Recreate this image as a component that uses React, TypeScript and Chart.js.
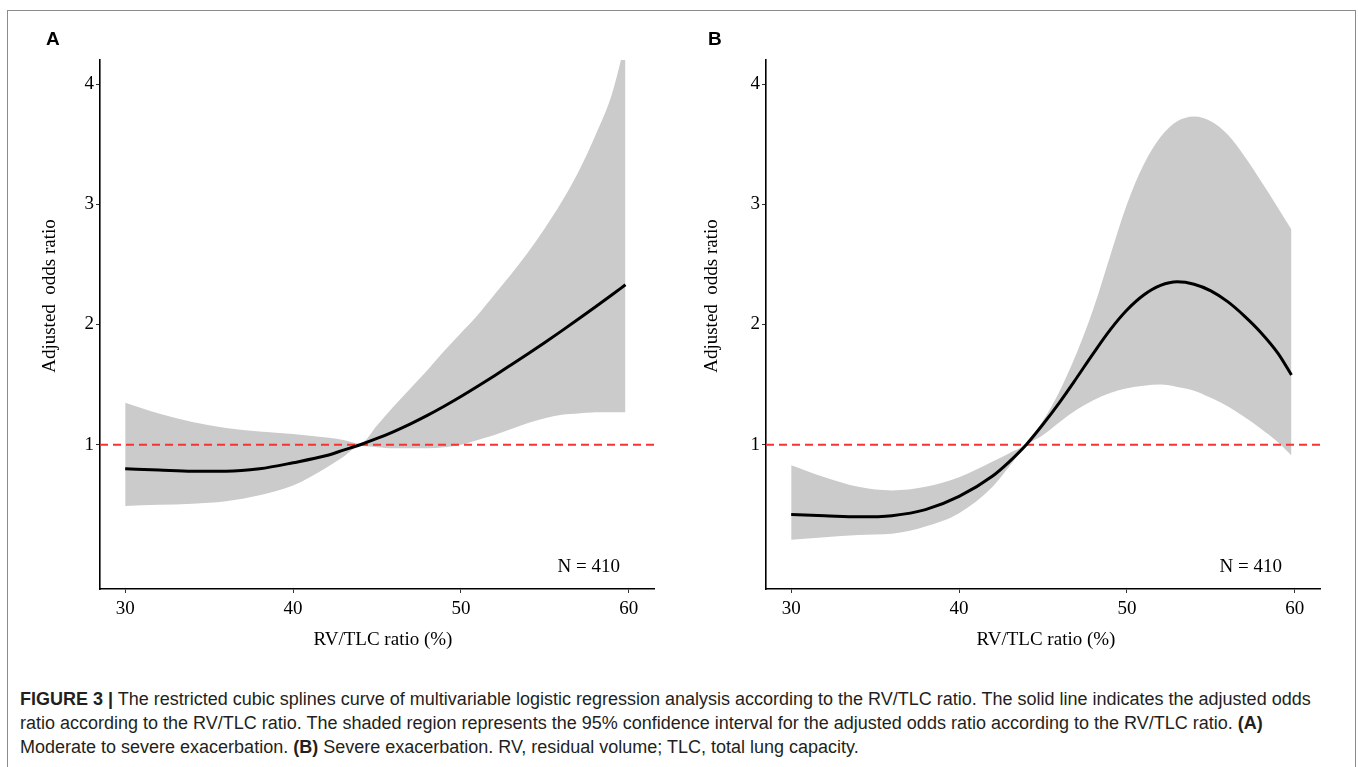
import React, { useEffect, useRef } from "react";
import { Chart, registerables } from "chart.js";

Chart.register(...registerables);

// ---------- data ----------
const xTicks = [30, 40, 50, 60];
const yTicks = [1, 2, 3, 4];
const xRange = [28.5, 61.5];
const yRange = [-0.2, 4.2];
const refValue = 1;

const ratioGrid = [30, 32, 34, 36, 38, 40, 42, 43, 44, 45, 46, 47, 48, 49, 50, 51, 52, 53, 54, 55, 56, 57, 58, 59, 59.8];

// Panel A: moderate to severe exacerbation
const fitA = [0.80, 0.79, 0.78, 0.78, 0.80, 0.85, 0.91, 0.955, 1.00, 1.052, 1.11, 1.174, 1.244, 1.32, 1.401, 1.486, 1.574, 1.665, 1.757, 1.851, 1.947, 2.045, 2.145, 2.247, 2.33];
const upperA = [1.35, 1.26, 1.19, 1.14, 1.11, 1.09, 1.06, 1.04, 1.01, 1.16, 1.32, 1.47, 1.62, 1.78, 1.93, 2.08, 2.25, 2.42, 2.60, 2.80, 3.02, 3.27, 3.57, 3.92, 4.35];
const lowerA = [0.49, 0.50, 0.51, 0.53, 0.58, 0.66, 0.81, 0.90, 0.99, 0.98, 0.97, 0.97, 0.97, 0.98, 1.00, 1.04, 1.08, 1.13, 1.18, 1.22, 1.25, 1.26, 1.27, 1.27, 1.27];

// Panel B: severe exacerbation
const fitB = [0.42, 0.41, 0.40, 0.41, 0.46, 0.57, 0.74, 0.86, 1.00, 1.17, 1.355, 1.555, 1.76, 1.955, 2.12, 2.245, 2.325, 2.355, 2.335, 2.28, 2.19, 2.07, 1.93, 1.76, 1.58];
const upperB = [0.83, 0.73, 0.65, 0.62, 0.65, 0.73, 0.86, 0.93, 1.01, 1.20, 1.45, 1.76, 2.13, 2.57, 3.00, 3.33, 3.56, 3.69, 3.73, 3.69, 3.58, 3.40, 3.19, 2.97, 2.79];
const lowerB = [0.21, 0.23, 0.25, 0.26, 0.32, 0.43, 0.65, 0.82, 0.99, 1.08, 1.19, 1.29, 1.37, 1.43, 1.47, 1.49, 1.50, 1.48, 1.45, 1.39, 1.32, 1.23, 1.13, 1.02, 0.91];

const panelLabels = ["A", "B"];
const xTitle = "RV/TLC ratio (%)";
const yTitle = "Adjusted  odds ratio";
const nLabel = "N = 410";

// ---------- styles ----------
const SERIF = '"Liberation Serif", "Times New Roman", Times, serif';
const SANS = '"Liberation Sans", Arial, Helvetica, sans-serif';

type Layout = {
  left: number;
  width: number;
  height: number;
  axisLeft: number;
  padRight: number;
  padTop: number;
  xAxisHeight: number;
  labelDx: number;
  labelY: number;
  yTitleDx: number;
  yTitleY: number;
  xTitleDx: number;
  xTitleY: number;
  nDx: number;
  nY: number;
};

const layoutA: Layout = {
  left: 0, width: 680, height: 680, axisLeft: 100, padRight: 26, padTop: 60, xAxisHeight: 91,
  labelDx: -54, labelY: 40, yTitleDx: -49.5, yTitleY: 296, xTitleDx: 6, xTitleY: 640, nDx: 34, nY: 567,
};
const layoutB: Layout = {
  left: 680, width: 678, height: 680, axisLeft: 86, padRight: 38, padTop: 60, xAxisHeight: 91,
  labelDx: -58, labelY: 40, yTitleDx: -54, yTitleY: 296, xTitleDx: 3, xTitleY: 640, nDx: 38, nY: 567,
};

const textPlugin = {
  id: "panelText",
  afterDraw(chart: any, _args: any, opts: any) {
    const { ctx, chartArea: a } = chart;
    ctx.save();
    ctx.fillStyle = "#000";
    ctx.textBaseline = "middle";
    // panel letter
    ctx.font = `bold 19px ${SANS}`;
    ctx.textAlign = "left";
    ctx.fillText(opts.label, a.left + opts.labelDx, opts.labelY);
    // y title
    ctx.font = `19px ${SERIF}`;
    ctx.save();
    ctx.translate(a.left + opts.yTitleDx, opts.yTitleY);
    ctx.rotate(-Math.PI / 2);
    ctx.textAlign = "center";
    ctx.fillText(yTitle, 0, 0);
    ctx.restore();
    // x title
    ctx.textAlign = "center";
    ctx.fillText(xTitle, (a.left + a.right) / 2 + opts.xTitleDx, opts.xTitleY);
    // N label
    ctx.textAlign = "right";
    ctx.fillText(nLabel, a.right - opts.nDx, opts.nY);
    ctx.restore();
  },
};

function toPoints(xs: number[], ys: number[]) {
  return xs.map((x, i) => ({ x, y: ys[i] }));
}

function Panel({ label, fit, upper, lower, lay }: { label: string; fit: number[]; upper: number[]; lower: number[]; lay: Layout }) {
  const ref = useRef<HTMLCanvasElement | null>(null);
  useEffect(() => {
    if (!ref.current) return;
    const axisFont = { family: SERIF, size: 19 };
    const chart = new Chart(ref.current, {
      type: "line",
      data: {
        datasets: [
          {
            data: toPoints(ratioGrid, upper),
            borderWidth: 0,
            borderColor: "rgba(0,0,0,0)",
            backgroundColor: "#cbcbcb",
            pointRadius: 0,
            fill: "+1",
            cubicInterpolationMode: "monotone",
            order: 3,
          },
          {
            data: toPoints(ratioGrid, lower),
            borderWidth: 0,
            borderColor: "rgba(0,0,0,0)",
            pointRadius: 0,
            fill: false,
            cubicInterpolationMode: "monotone",
            order: 4,
          },
          {
            data: [
              { x: xRange[0], y: refValue },
              { x: xRange[1], y: refValue },
            ],
            borderColor: "#f53333",
            borderWidth: 2,
            borderDash: [8, 5],
            pointRadius: 0,
            fill: false,
            order: 2,
          },
          {
            data: toPoints(ratioGrid, fit),
            borderColor: "#000000",
            borderWidth: 3,
            pointRadius: 0,
            fill: false,
            cubicInterpolationMode: "monotone",
            order: 1,
          },
        ],
      } as any,
      options: {
        animation: false,
        responsive: false,
        devicePixelRatio: 1,
        events: [],
        layout: { padding: { left: 0, top: lay.padTop, right: lay.padRight, bottom: 0 } },
        plugins: {
          legend: { display: false },
          tooltip: { enabled: false },
          panelText: {
            label,
            labelDx: lay.labelDx,
            labelY: lay.labelY,
            yTitleDx: lay.yTitleDx,
            yTitleY: lay.yTitleY,
            xTitleDx: lay.xTitleDx,
            xTitleY: lay.xTitleY,
            nDx: lay.nDx,
            nY: lay.nY,
          },
        } as any,
        scales: {
          x: {
            type: "linear",
            min: xRange[0],
            max: xRange[1],
            afterBuildTicks: (s: any) => {
              s.ticks = xTicks.map((v) => ({ value: v }));
            },
            afterFit: (s: any) => {
              s.height = lay.xAxisHeight;
            },
            grid: { drawOnChartArea: false, drawTicks: true, tickLength: 4, color: "#333", lineWidth: 1 },
            border: { display: true, color: "#000", width: 1.6 },
            ticks: { color: "#000", font: axisFont, padding: 5, maxRotation: 0, autoSkip: false },
          },
          y: {
            type: "linear",
            min: yRange[0],
            max: yRange[1],
            afterBuildTicks: (s: any) => {
              s.ticks = yTicks.map((v) => ({ value: v }));
            },
            afterFit: (s: any) => {
              s.width = lay.axisLeft;
            },
            grid: { drawOnChartArea: false, drawTicks: true, tickLength: 4, color: "#333", lineWidth: 1 },
            border: { display: true, color: "#000", width: 1.6 },
            ticks: { color: "#000", font: axisFont, padding: 2, autoSkip: false },
          },
        },
      } as any,
      plugins: [textPlugin as any],
    });
    return () => chart.destroy();
  }, [label, fit, upper, lower, lay]);
  return (
    <canvas
      ref={ref}
      width={lay.width}
      height={lay.height}
      style={{ position: "absolute", left: lay.left, top: 0, width: lay.width, height: lay.height }}
    />
  );
}

export default function App() {
  return (
    <div
      style={{
        position: "absolute",
        left: 0,
        top: 0,
        width: 1358,
        height: 767,
        overflow: "hidden",
        background: "#fff",
      }}
    >
      <div
        style={{
          position: "absolute",
          left: 7,
          top: 10,
          width: 1349,
          height: 800,
          boxSizing: "border-box",
          border: "1px solid #8c8c8c",
        }}
      />
      <Panel label={panelLabels[0]} fit={fitA} upper={upperA} lower={lowerA} lay={layoutA} />
      <Panel label={panelLabels[1]} fit={fitB} upper={upperB} lower={lowerB} lay={layoutB} />
      <div
        style={{
          position: "absolute",
          left: 20,
          top: 687,
          fontFamily: SANS,
          fontSize: 18,
          lineHeight: "24px",
          color: "#231f20",
          whiteSpace: "nowrap",
        }}
      >
        <div>
          <b>FIGURE 3 |</b> The restricted cubic splines curve of multivariable logistic regression analysis according to the RV/TLC ratio. The solid line indicates the adjusted odds
        </div>
        <div>
          ratio according to the RV/TLC ratio. The shaded region represents the 95% confidence interval for the adjusted odds ratio according to the RV/TLC ratio. <b>(A)</b>
        </div>
        <div>
          Moderate to severe exacerbation. <b>(B)</b> Severe exacerbation. RV, residual volume; TLC, total lung capacity.
        </div>
      </div>
    </div>
  );
}
